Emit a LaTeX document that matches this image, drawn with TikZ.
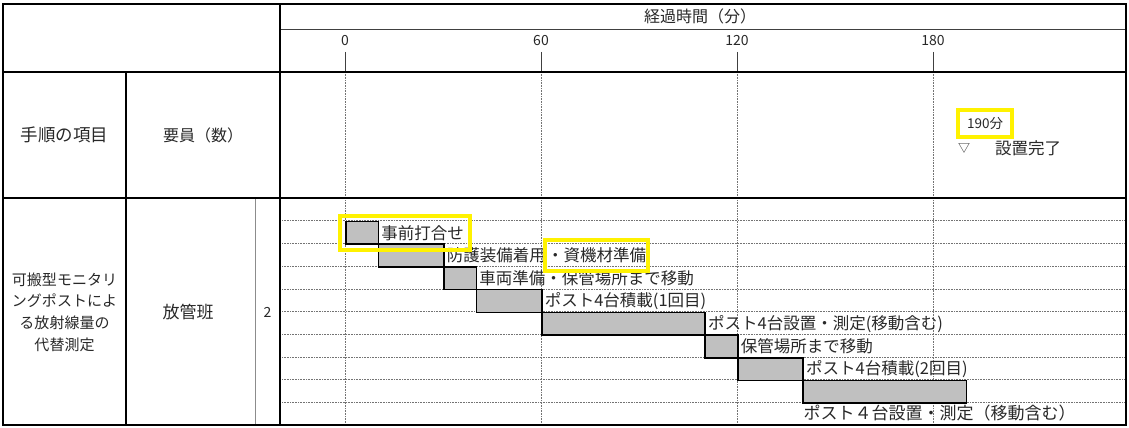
\documentclass[tikz,border=0pt]{standalone}
\usepackage{fontspec}
\setmainfont{Noto Sans CJK JP}
\usetikzlibrary{positioning, fit}

\definecolor{bargrey}{RGB}{192,192,192}
\definecolor{markyellow}{RGB}{255,242,0}
\definecolor{inkgrey}{RGB}{40,40,40}

\tikzset{
    frameline/.style={line width=2.4pt, draw=black},
    thinline/.style={line width=0.7pt, draw=black!75},
    gridline/.style={densely dotted, line width=0.6pt, draw=black!55},
    taskbar/.style={draw=black, line width=1.6pt, fill=bargrey, inner sep=0pt, minimum height=22.7pt, anchor=north west},
    tasklabel/.style={font=\fontsize{16.5}{19}\selectfont, text=inkgrey, inner sep=1pt},
    headtext/.style={font=\fontsize{16}{19}\selectfont, text=inkgrey, align=center},
    ticktext/.style={font=\fontsize{14}{16}\selectfont, text=inkgrey},
    marker/.style={draw=markyellow, line width=4pt, inner sep=5pt}
}

\begin{document}
\begin{tikzpicture}[x=1pt,y=-1pt]
\useasboundingbox (0,0) rectangle (1129,428);

% dotted rows of the chart
\foreach \k in {1,...,9}
    \draw[gridline] (282,198+\k*22.7) -- (1124,198+\k*22.7);

% time axis
\node[headtext] (axistitle) at (700,16) {経過時間（分）};
\foreach \m in {0,60,120,180} {
    \node[ticktext] (tick\m) at ({345+\m*3.2667},41) {\m};
    \draw[thinline] ({345+\m*3.2667},52) -- ({345+\m*3.2667},72);
    \draw[gridline] ({345+\m*3.2667},72) -- ({345+\m*3.2667},425);
}

% bars, one row each
\foreach \s/\e [count=\k] in {0/10,10/30,30/40,40/60,60/110,110/120,120/140,140/190} {
    \pgfmathsetmacro\w{(\e-\s)*3.2667}
    \node[taskbar, minimum width=\w pt] (bar\k) at ({345+\s*3.2667},{198+\k*22.7}) {};
}

\node[tasklabel, right=1pt of bar1] (lbl1) {事前打合せ};
\node[tasklabel, right=1pt of bar2] (lbl2) {防護装備着用};
\node[tasklabel, right=0pt of lbl2, inner xsep=0pt] (lbl2b) {・資機材準備};
\node[tasklabel, right=1pt of bar3] (lbl3) {車両準備・保管場所まで移動};
\node[tasklabel, right=1pt of bar4] (lbl4) {ポスト4台積載(1回目)};
\node[tasklabel, right=1pt of bar5] (lbl5) {ポスト4台設置・測定(移動含む)};
\node[tasklabel, right=1pt of bar6] (lbl6) {保管場所まで移動};
\node[tasklabel, right=1pt of bar7] (lbl7) {ポスト4台積載(2回目)};
\node[tasklabel, font=\fontsize{17}{19}\selectfont, below right=0pt and 0pt of bar8.south west] (lbl8) {ポスト４台設置・測定（移動含む）};

% end of work
\node[marker, text=inkgrey, font=\fontsize{13.5}{15}\selectfont, inner xsep=9pt, inner ysep=7pt] (done) at (985,123.5) {190分};
\node[ticktext, font=\fontsize{12}{14}\selectfont] (donemark) at (964,148) {▽};
\node[tasklabel] (donelbl) at (1028,148) {設置完了};

% highlights
\node[marker, fit=(bar1)(lbl1)] (mark1) {};
\node[marker, inner xsep=2pt, inner ysep=7pt, fit=(lbl2b)] (mark2) {};

% left columns
\node[headtext, font=\fontsize{17.5}{20}\selectfont] (colitem) at (64.5,135) {手順の項目};
\node[headtext] (colstaff) at (203,135) {要員（数）};
\node[headtext, font=\fontsize{15}{21.7}\selectfont] (taskname) at (64.5,312) {可搬型モニタリ\\ングポストによ\\る放射線量の\\代替測定};
\node[headtext, font=\fontsize{17}{20}\selectfont] (team) at (188,312) {放管班};
\node[ticktext] (teamsize) at (267.5,312) {2};

% table frame
\draw[thinline] (280,29) -- (1126,29);
\draw[thinline, draw=black!45] (255,198) -- (255,425);
\draw[frameline] (3,72) -- (1126,72);
\draw[frameline] (3,198) -- (1126,198);
\draw[frameline] (280,4) -- (280,425);
\draw[frameline] (126,72) -- (126,425);
\draw[frameline] (3,4) rectangle (1126,425);
\end{tikzpicture}
\end{document}
